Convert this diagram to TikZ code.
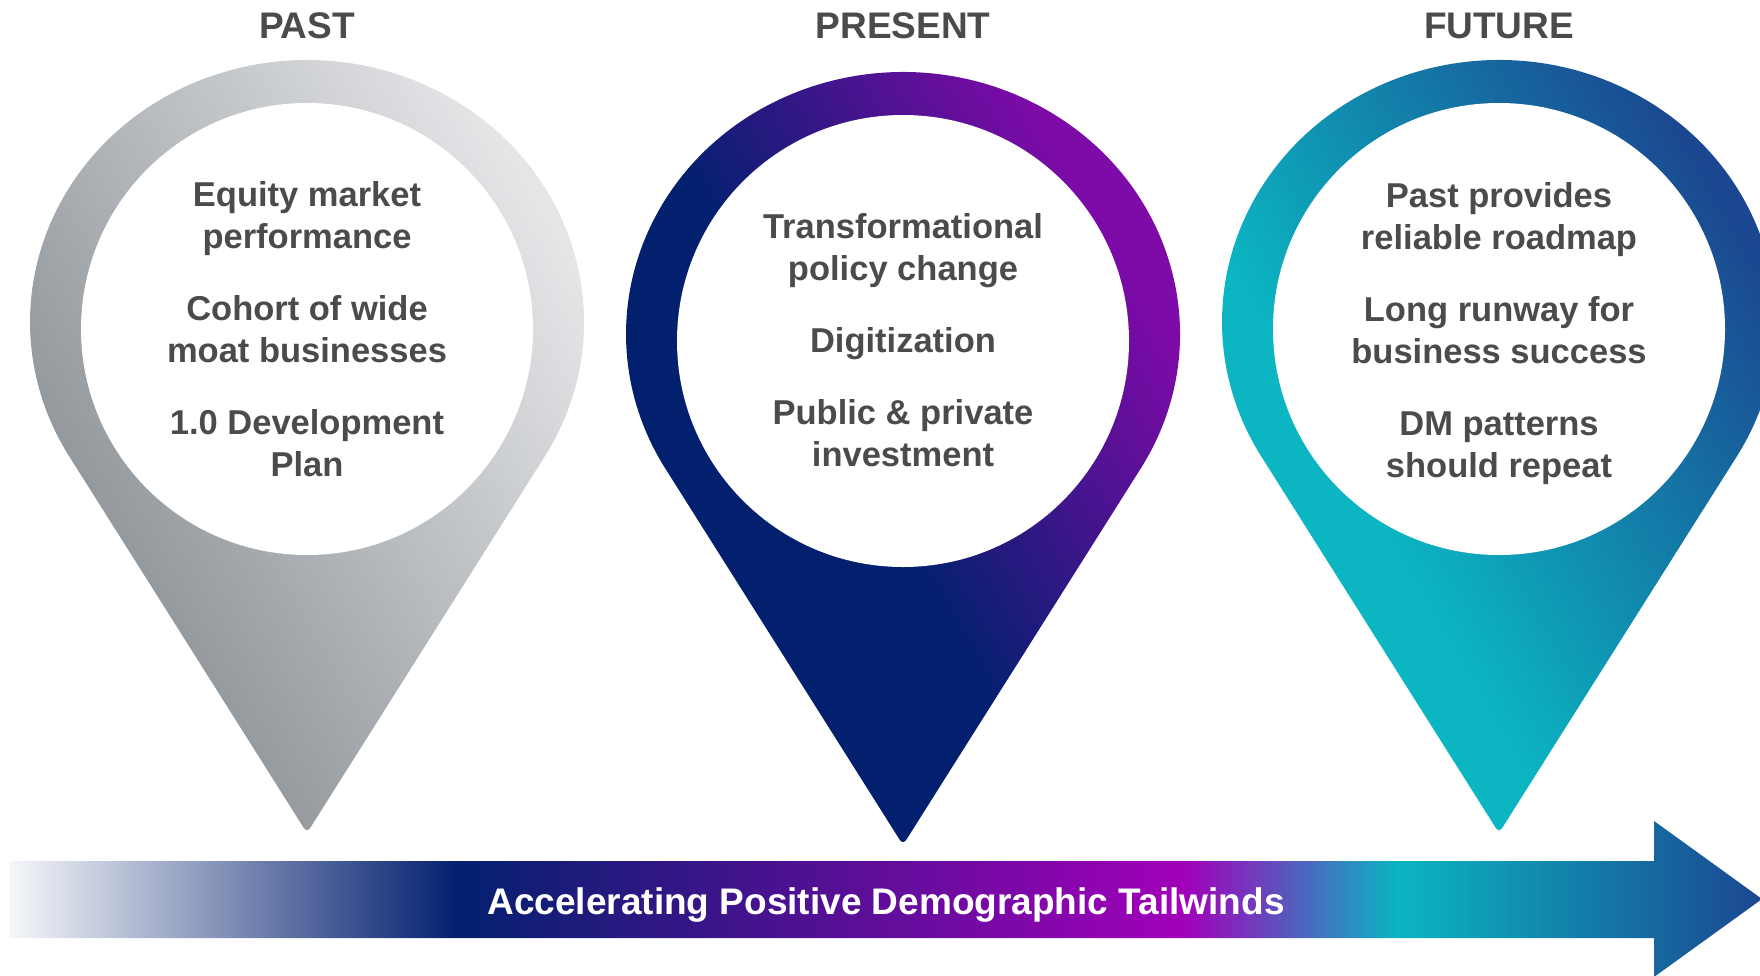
\documentclass[tikz,border=0pt]{standalone}
\usepackage{fontspec}
\setmainfont{Liberation Sans}

\definecolor{txtgray}{HTML}{4B4B4D}
\definecolor{pastlight}{HTML}{E4E5E7}
\definecolor{pastdark}{HTML}{8D9398}
\definecolor{prespurple}{HTML}{7E0AA8}
\definecolor{presnavy}{HTML}{03206F}
\definecolor{futblue}{HTML}{1B4790}
\definecolor{futteal}{HTML}{0BB5C2}
\definecolor{barwhite}{HTML}{F6F7FA}
\definecolor{barmagenta}{HTML}{A200B9}

% pin shadings, bottom to top (turned by the shading angle)
\pgfdeclareverticalshading{pastshade}{100bp}{color(0bp)=(pastdark);
    color(30bp)=(pastdark); color(72bp)=(pastlight); color(100bp)=(pastlight)}
\pgfdeclareverticalshading{presshade}{100bp}{color(0bp)=(presnavy);
    color(45bp)=(presnavy); color(70bp)=(prespurple); color(100bp)=(prespurple)}
\pgfdeclareverticalshading{futshade}{100bp}{color(0bp)=(futteal);
    color(38bp)=(futteal); color(72bp)=(futblue); color(100bp)=(futblue)}
% bar shading, left to right
\pgfdeclarehorizontalshading{tailwind}{100bp}{color(0bp)=(barwhite);
    color(25bp)=(barwhite); color(37.8bp)=(presnavy);
    color(58.5bp)=(barmagenta); color(64.6bp)=(futteal);
    color(75bp)=(futblue); color(100bp)=(futblue)}

\begin{document}
\begin{tikzpicture}[x=0.5pt, y=-0.5pt,
        title/.style={font=\fontsize{18.5}{22}\selectfont\bfseries,
            text=txtgray, anchor=base},
        pintext/.style={font=\fontsize{17.25}{21}\selectfont\bfseries,
            text=txtgray, align=center}]
    \clip (0,0) rectangle (1760,975);

    % pins
    \shade[shading=pastshade, shading angle=-60]
        (307,322) ++(31.2:277 and 262)
        arc[start angle=31.2, end angle=-211.2, x radius=277, y radius=262]
        [rounded corners=3pt] -- (307,833) [sharp corners] -- cycle;
    \shade[shading=presshade, shading angle=-60]
        (903,334) ++(31.2:277 and 262)
        arc[start angle=31.2, end angle=-211.2, x radius=277, y radius=262]
        [rounded corners=3pt] -- (903,845) [sharp corners] -- cycle;
    \shade[shading=futshade, shading angle=-60]
        (1499,322) ++(31.2:277 and 262)
        arc[start angle=31.2, end angle=-211.2, x radius=277, y radius=262]
        [rounded corners=3pt] -- (1499,833) [sharp corners] -- cycle;

    \fill[white] (307,329) circle[radius=226];
    \fill[white] (903,341) circle[radius=226];
    \fill[white] (1499,329) circle[radius=226];

    \node[title] (past) at (307,38) {PAST};
    \node[title] (present) at (903,38) {PRESENT};
    \node[title] (future) at (1499,38) {FUTURE};

    \node[pintext] (pasttxt) at (307,329) {Equity market\\performance\\[15pt]
        Cohort of wide\\moat businesses\\[15pt]1.0 Development\\Plan};
    \node[pintext] (prestxt) at (903,340) {Transformational\\policy change\\[15pt]
        Digitization\\[15pt]Public \& private\\investment};
    \node[pintext] (futtxt) at (1499,334) {Past provides\\reliable roadmap\\[15pt]
        Long runway for\\business success\\[15pt]DM patterns\\should repeat};

    % bottom arrow
    \shade[shading=tailwind] (9,861) -- (1654,861) -- (1654,821) -- (1762,899)
        -- (1654,977) -- (1654,938) -- (9,938) -- cycle;
    \node[title, text=white] (tailwinds) at (886,914)
        {Accelerating Positive Demographic Tailwinds};
\end{tikzpicture}
\end{document}
